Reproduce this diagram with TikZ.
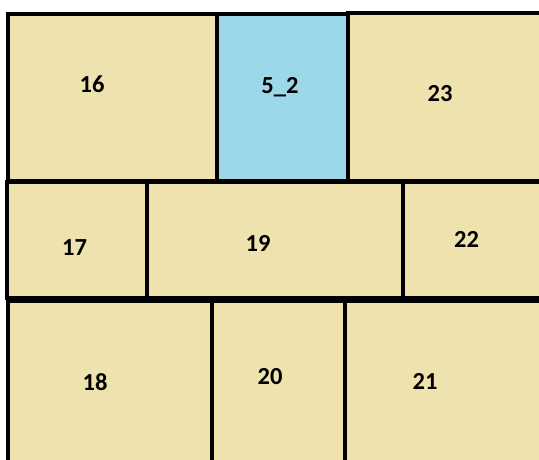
\documentclass[tikz,border=0pt]{standalone}
\usepackage{fontspec}
\setmainfont{Carlito}
\definecolor{cellbeige}{RGB}{238,226,174}
\definecolor{cellblue}{RGB}{157,216,234}
\tikzset{
  cell/.style={draw=black, line width=3.6pt, fill=cellbeige, line join=miter},
  bluecell/.style={cell, fill=cellblue},
  lbl/.style={anchor=base, inner sep=0pt, font=\fontsize{24.5}{28}\selectfont\bfseries, text=black}
}
\begin{document}
\begin{tikzpicture}[x=1pt,y=-1pt]
\useasboundingbox (0,0) rectangle (539,459);
\clip (0,0) rectangle (539,459);
\fill[white] (0,0) rectangle (539,459);
% top row
\draw[cell] (8,14) rectangle (217,181);
\draw[bluecell] (217,14) rectangle (348,181);
\draw[cell] (348,13) rectangle (550,181);
% middle row
\draw[cell] (7,182) rectangle (147,298);
\draw[cell] (147,182) rectangle (403,298);
\draw[cell] (403,182) rectangle (550,298);
% bottom row
\draw[cell] (8,301) rectangle (212,475);
\draw[cell] (212,301) rectangle (345,475);
\draw[cell] (345,301) rectangle (550,475);
% labels
\node[lbl] (l16) at (92,92) {16};
\node[lbl] (l52) at (280,93) {5\_2};
\node[lbl] (l23) at (440,101) {23};
\node[lbl] (l17) at (74.5,255) {17};
\node[lbl] (l19) at (258,251) {19};
\node[lbl] (l22) at (466.5,247) {22};
\node[lbl] (l18) at (95,390) {18};
\node[lbl] (l20) at (270,384) {20};
\node[lbl] (l21) at (425,389) {21};
\end{tikzpicture}
\end{document}
